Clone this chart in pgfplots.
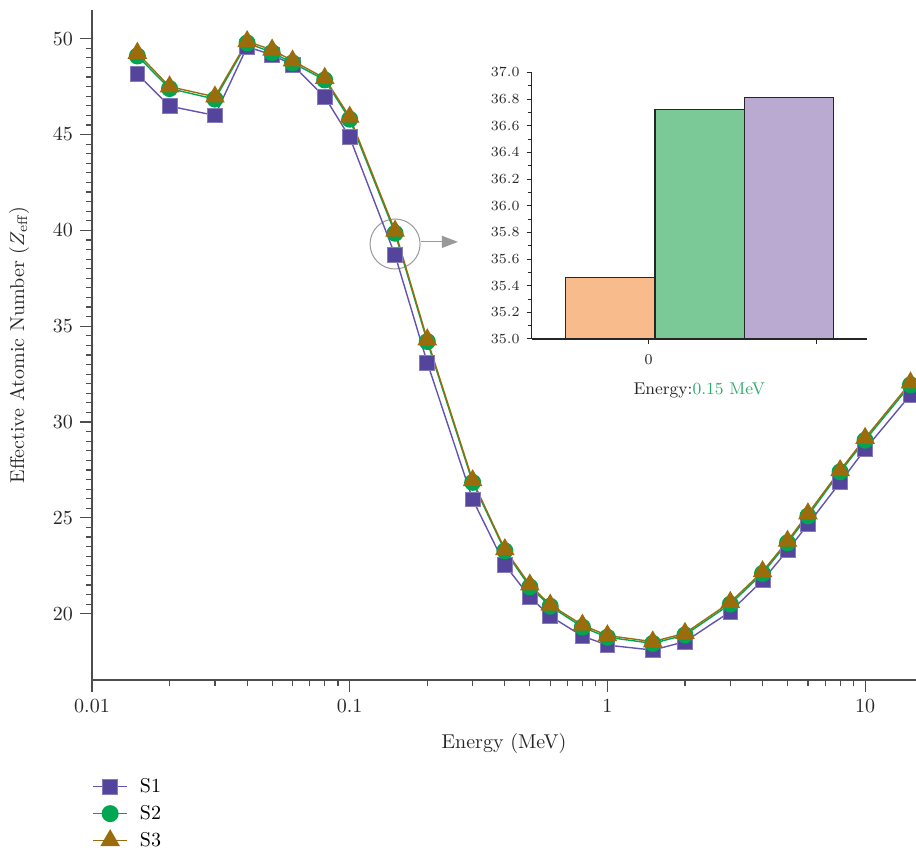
\documentclass[border=0pt]{standalone}
\usepackage{pgfplots}
\pgfplotsset{compat=1.18}
\usepackage{pgfplotstable}
\usetikzlibrary{arrows.meta}
\definecolor{sone}{HTML}{54449C}
\definecolor{sonel}{HTML}{6353B0}
\definecolor{stwo}{HTML}{00A651}
\definecolor{sthree}{HTML}{9A6C0C}
\definecolor{axgray}{HTML}{4D4D4D}
\definecolor{barO}{HTML}{F8BC8C}
\definecolor{barG}{HTML}{7AC997}
\definecolor{barP}{HTML}{BAA9D0}
\definecolor{engreen}{HTML}{2EAA70}

\pgfplotstableread{
x y
0.015 48.16
0.02 46.48
0.03 46.0
0.04 49.58
0.05 49.16
0.06 48.64
0.08 46.96
0.1 44.86
0.15 38.71
0.2 33.1
0.3 25.96
0.4 22.55
0.5 20.87
0.6 19.87
0.8 18.83
1 18.36
1.5 18.10
2 18.54
3 20.11
4 21.74
5 23.30
6 24.66
8 26.85
10 28.58
15 31.42
}\sone

\pgfplotstableread{
x y
0.015 49.1
0.02 47.4
0.03 46.85
0.04 49.78
0.05 49.28
0.06 48.74
0.08 47.85
0.1 45.8
0.15 39.85
0.2 34.2
0.3 26.85
0.4 23.28
0.5 21.4
0.6 20.39
0.8 19.3
1 18.77
1.5 18.45
2 18.89
3 20.5
4 22.1
5 23.7
6 25.1
8 27.4
10 29.05
15 31.94
}\stwo

\pgfplotstableread{
x y
0.015 49.25
0.02 47.5
0.03 46.97
0.04 49.86
0.05 49.42
0.06 48.85
0.08 47.94
0.1 45.92
0.15 39.97
0.2 34.3
0.3 26.95
0.4 23.35
0.5 21.51
0.6 20.46
0.8 19.41
1 18.86
1.5 18.54
2 18.98
3 20.6
4 22.2
5 23.79
6 25.22
8 27.48
10 29.16
15 32.05
}\sthree

\begin{document}
\begin{tikzpicture}
\begin{axis}[
  name=main,
  at={(0,0)}, anchor=south west,
  width=412pt, height=335pt, scale only axis,
  xmode=log, xmin=0.01, xmax=15.76, ymin=16.54, ymax=51.5,
  clip=false,
  axis x line*=bottom, axis y line*=left,
  axis line style={axgray, line width=0.6pt, -},
  tick align=outside, major tick length=6pt, minor tick length=3pt,
  every tick/.style={axgray, line width=0.6pt},
  xtick={0.01,0.1,1,10}, xticklabels={0.01,0.1,1,10},
  ytick={20,25,30,35,40,45,50}, minor y tick num=9,
  tick label style={font=\fontsize{10}{12}\selectfont, text=black!85},
  label style={font=\fontsize{10}{12}\selectfont, text=black!85},
  xlabel={Energy (MeV)},
  xlabel style={yshift=-3.5pt},
  ylabel={Effective Atomic Number ($Z_{\mathrm{eff}}$)},
  ylabel style={yshift=5pt},
  legend style={draw=none, fill=none, at={(0,-0.134)}, anchor=north west,
    font=\fontsize{10}{12}\selectfont, inner xsep=0pt, row sep=0.9pt},
  legend cell align=left,
]
\draw[gray!80, line width=0.5pt] (axis cs:0.15,39.29) circle[radius=12.5pt];
\draw[gray!80, line width=0.6pt, -{Triangle[length=8pt,width=6pt]}] (axis cs:0.189,39.4) -- (axis cs:0.263,39.4);
\addplot[sonel, line width=0.7pt, mark=square*, mark size=3.7pt, mark options={fill=sone, draw=sone!70!white, line width=0.4pt}] table[x=x,y=y] {\sone};
\addlegendentry{\hspace{4pt}S1}
\addplot[stwo, line width=0.7pt, mark=*, mark size=3.9pt, mark options={fill=stwo, draw=stwo}] table[x=x,y=y] {\stwo};
\addlegendentry{\hspace{4pt}S2}
\addplot[sthree, line width=0.7pt, mark=triangle*, mark size=5pt, mark options={fill=sthree, draw=sthree}] table[x=x,y=y] {\sthree};
\addlegendentry{\hspace{4pt}S3}
\end{axis}

\begin{axis}[
  at={(219.85pt,170.5pt)}, anchor=south west,
  width=167.5pt, height=133.3pt, scale only axis,
  xmin=0, xmax=3.75, ymin=35, ymax=37,
  axis x line*=bottom, axis y line*=left,
  axis line style={black!85, line width=0.6pt, -},
  tick align=outside, major tick length=2.5pt, minor tick length=2pt,
  every tick/.style={black!85, line width=0.5pt},
  ytick={35,35.2,35.4,35.6,35.8,36,36.2,36.4,36.6,36.8,37},
  minor y tick num=1,
  yticklabel style={/pgf/number format/.cd, fixed, fixed zerofill, precision=1},
  xtick={1.31,3.19}, xticklabels={0,{}},
  x tick label style={yshift=-1.5pt},
  tick label style={font=\fontsize{7.5}{9}\selectfont, text=black!85},
  xlabel={Energy:\textcolor{engreen}{0.15 MeV}},
  xlabel style={font=\fontsize{8.5}{10}\selectfont, text=black!85, yshift=-2.5pt},
]
\addplot[ybar, bar width=1, bar shift=0pt, fill=barO, draw=black!85, line width=0.6pt] coordinates {(0.88,35.46)};
\addplot[ybar, bar width=1, bar shift=0pt, fill=barG, draw=black!85, line width=0.6pt] coordinates {(1.88,36.72)};
\addplot[ybar, bar width=1, bar shift=0pt, fill=barP, draw=black!85, line width=0.6pt] coordinates {(2.88,36.81)};
\end{axis}
\pgfresetboundingbox
\path[use as bounding box] (-46pt,-85pt) rectangle (412pt,340pt);
\end{tikzpicture}
\end{document}
